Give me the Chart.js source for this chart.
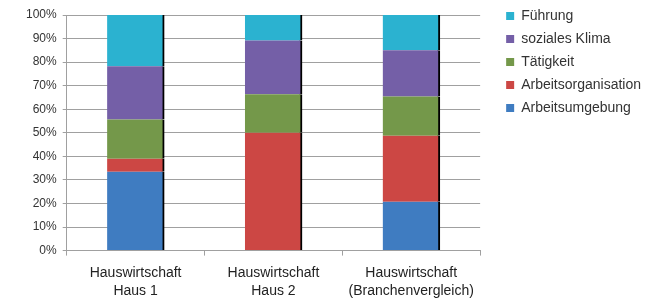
<!DOCTYPE html>
<html>
<head>
<meta charset="utf-8">
<script src="https://cdn.jsdelivr.net/npm/chart.js@4.4.0/dist/chart.umd.min.js"></script>
<style>
  html, body { margin: 0; padding: 0; background: #fff; }
  #contenedor { width: 651px; height: 298px; }
</style>
</head>
<body>
<div id="contenedor"><canvas id="grafico"></canvas></div>
<script>
const kategorien = [
  ['Hauswirtschaft', 'Haus 1'],
  ['Hauswirtschaft', 'Haus 2'],
  ['Hauswirtschaft', '(Branchenvergleich)']
];
const arbeitsumgebung = [33.5, 0, 20.7];
const arbeitsorganisation = [5.5, 50, 28.0];
const taetigkeit = [16.6, 16.4, 16.7];
const sozialesKlima = [22.6, 22.8, 19.6];
const fuehrung = [21.8, 10.8, 15.0];
const yTicks = [0, 10, 20, 30, 40, 50, 60, 70, 80, 90, 100];

(function () {
  Chart.defaults.font.family = "'Liberation Sans', Arial, sans-serif";
  Chart.defaults.color = '#333';

  const grau = '#a0a0a0';

  // Abstand zwischen Diagramm und Legende
  const abstandLegende = {
    id: 'abstandLegende',
    afterInit(chart) {
      const legend = chart.legend;
      if (!legend) return;
      const fitOriginal = legend.fit;
      legend.fit = function () {
        fitOriginal.call(this);
        this.width += 17;
      };
    },
    afterLayout(chart) {
      if (chart.legend) chart.legend.left += 17;
    }
  };

  function serie(label, data, color) {
    return {
      label: label,
      data: data,
      backgroundColor: color,
      borderColor: '#000',
      borderWidth: { top: 0, right: 2, bottom: 0, left: 0 },
      borderSkipped: false,
      inflateAmount: 0.5,
      categoryPercentage: 0.413,
      barPercentage: 1
    };
  }

  new Chart(document.getElementById('grafico'), {
    type: 'bar',
    data: {
      labels: kategorien,
      datasets: [
        serie('Arbeitsumgebung', arbeitsumgebung, '#3f7cc1'),
        serie('Arbeitsorganisation', arbeitsorganisation, '#cc4744'),
        serie('Tätigkeit', taetigkeit, '#74984a'),
        serie('soziales Klima', sozialesKlima, '#745fa7'),
        serie('Führung', fuehrung, '#2bb2d0')
      ]
    },
    options: {
      responsive: true,
      maintainAspectRatio: false,
      animation: false,
      devicePixelRatio: 1,
      layout: { padding: { left: 20, top: 0, right: 0, bottom: 0 } },
      scales: {
        x: {
          stacked: true,
          afterFit: s => { s.height -= 10; },
          grid: { drawOnChartArea: false, drawTicks: true, tickLength: 5, color: grau },
          border: { color: grau },
          ticks: { padding: 8, color: '#222', font: { size: 14, lineHeight: 1.3 } }
        },
        y: {
          stacked: true,
          min: 0,
          max: 100,
          afterBuildTicks: s => { s.ticks = yTicks.map(v => ({ value: v })); },
          afterFit: s => { s.paddingTop = 15; },
          grid: { color: grau, tickLength: 4 },
          border: { color: grau },
          ticks: { padding: 6, font: { size: 12 }, callback: v => v + '%' }
        }
      },
      plugins: {
        tooltip: { enabled: false },
        legend: {
          position: 'right',
          align: 'start',
          reverse: true,
          labels: {
            boxWidth: 8,
            boxHeight: 8,
            padding: 9,
            font: { size: 14 },
            generateLabels: chart => {
              const items = Chart.defaults.plugins.legend.labels.generateLabels(chart);
              items.forEach(it => { it.lineWidth = 0; it.strokeStyle = 'rgba(0,0,0,0)'; });
              return items;
            }
          }
        }
      }
    },
    plugins: [abstandLegende]
  });
})();
</script>
</body>
</html>
